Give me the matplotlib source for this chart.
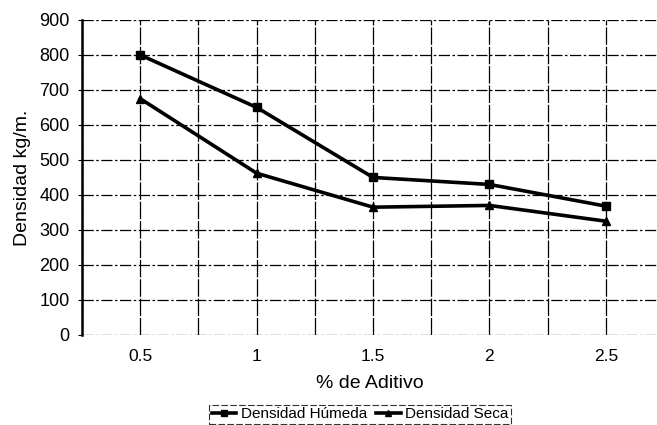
import matplotlib
matplotlib.use("Agg")
import matplotlib.pyplot as plt
from matplotlib.ticker import MultipleLocator

plt.rcParams["font.family"] = ["Liberation Sans", "DejaVu Sans"]

# datos
aditivo = [0.5, 1, 1.5, 2, 2.5]
aditivo_labels = ["0.5", "1", "1.5", "2", "2.5"]
dens_humeda = [800, 650, 450, 430, 368]
dens_seca = [675, 462, 365, 370, 325]
y_ticks = [0, 100, 200, 300, 400, 500, 600, 700, 800, 900]

fig = plt.figure(figsize=(6.57, 4.25), dpi=100)
ax = fig.add_axes([0.125, 0.212, 0.875, 0.741])

ax.plot(aditivo, dens_humeda, color="black", lw=2.6, marker="s", ms=6,
        label="Densidad Húmeda", zorder=3)
ax.plot(aditivo, dens_seca, color="black", lw=2.6, marker="^", ms=6,
        label="Densidad Seca", zorder=3)

ax.set_xlim(0.25, 2.72)
ax.set_ylim(0, 900)
ax.set_xticks(aditivo)
ax.set_xticklabels(aditivo_labels)
ax.set_yticks(y_ticks)
ax.xaxis.set_minor_locator(MultipleLocator(0.25))
ax.xaxis.remove_overlapping_locs = False

# rejilla
ax.grid(axis="y", which="major", color="black", lw=0.9, ls=(0, (9, 2, 2, 2)))
ax.grid(axis="x", which="minor", color="black", lw=0.9, ls=(0, (14, 1.5)))

for s in ["right", "bottom", "top"]:
    ax.spines[s].set_visible(False)
ax.spines["left"].set_linewidth(1.8)
ax.tick_params(axis="x", which="both", length=0, labelsize=12.5, pad=10)
ax.tick_params(axis="y", length=3, width=0.8, labelsize=13, pad=6)

ax.set_xlabel("% de Aditivo", fontsize=14, labelpad=8)
ax.set_ylabel("Densidad kg/m.", fontsize=14, labelpad=6)

leg = fig.legend(loc="center", bbox_to_anchor=(0.548, 0.025), ncol=2,
                 fontsize=11, frameon=True, fancybox=False, handlelength=1.6,
                 handletextpad=0.3, columnspacing=0.6, borderpad=0.15,
                 markerscale=0.7)
leg.get_frame().set_edgecolor("black")
leg.get_frame().set_linewidth(0.8)
leg.get_frame().set_linestyle((0, (6, 2)))

fig.savefig("out.png", dpi=100)
